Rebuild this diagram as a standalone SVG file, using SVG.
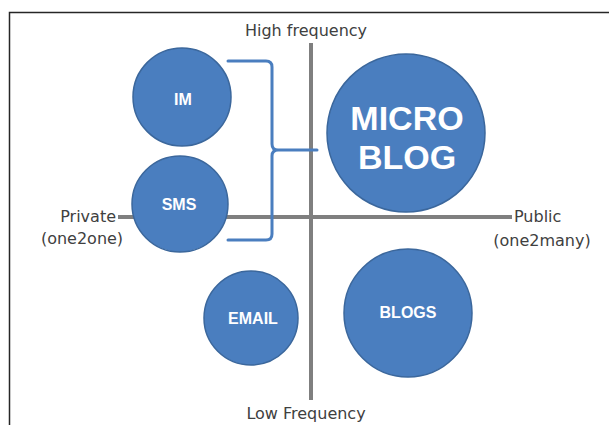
<svg xmlns="http://www.w3.org/2000/svg" width="609" height="425" viewBox="0 0 609 425">
<style>
.node circle{fill:#4a7ebf;stroke:#3b679c;stroke-width:1.5}
.lbl{font-family:"Liberation Sans",Arial,sans-serif;font-weight:bold;fill:#ffffff;text-anchor:middle}
.ax{font-family:"DejaVu Sans","Liberation Sans",sans-serif;font-size:16px;fill:#404040}
.axis{stroke:#7f7f7f;stroke-width:4;fill:none}
.brace{stroke:#4a7ebf;stroke-width:3;fill:none;stroke-linecap:round}
</style>
<rect width="609" height="425" fill="#ffffff"/>
<path d="M9.5 425 V12.5 H609" fill="none" stroke="#262626" stroke-width="1.5"/>
<g id="connectors">
<line class="axis" x1="311" y1="43" x2="311" y2="400"/>
<line class="axis" x1="118" y1="217" x2="512" y2="217"/>
<path class="brace" d="M228 61 H266 Q272 61 272 67 V144 Q272 150 278 150 H317 M278 150 Q272 150 272 156 V234 Q272 240 266 240 H228"/>
</g>
<g class="ax">
<text x="306" y="36" text-anchor="middle">High frequency</text>
<text x="116" y="222" text-anchor="end">Private</text>
<text x="82" y="244" text-anchor="middle">(one2one)</text>
<text x="514" y="222">Public</text>
<text x="542" y="246" text-anchor="middle">(one2many)</text>
<text x="306" y="419" text-anchor="middle">Low Frequency</text>
</g>
<g id="im" class="node"><circle cx="182" cy="97" r="49"/><text class="lbl" x="183" y="105" font-size="16">IM</text></g>
<g id="sms" class="node"><circle cx="180" cy="204" r="48"/><text class="lbl" x="179" y="210" font-size="16">SMS</text></g>
<g id="microblog" class="node"><circle cx="406" cy="133" r="79"/><text class="lbl" x="407" y="130" font-size="34">MICRO</text><text class="lbl" x="407" y="169" font-size="34">BLOG</text></g>
<g id="email" class="node"><circle cx="251" cy="318" r="47"/><text class="lbl" x="253" y="324" font-size="16">EMAIL</text></g>
<g id="blogs" class="node"><circle cx="408" cy="313" r="64"/><text class="lbl" x="408" y="318" font-size="16">BLOGS</text></g>
</svg>
